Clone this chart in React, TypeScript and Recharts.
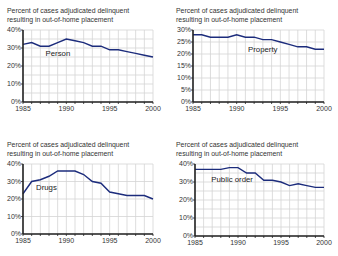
import React from 'react';
import { LineChart, Line, XAxis, YAxis, CartesianGrid, ReferenceDot } from 'recharts';

const years = [1985, 1986, 1987, 1988, 1989, 1990, 1991, 1992, 1993, 1994, 1995, 1996, 1997, 1998, 1999, 2000];
const personValues = [32, 33, 31, 31, 33, 35, 34, 33, 31, 31, 29, 29, 28, 27, 26, 25];
const propertyValues = [28, 28, 27, 27, 27, 28, 27, 27, 26, 26, 25, 24, 23, 23, 22, 22];
const drugsValues = [23, 30, 31, 33, 36, 36, 36, 34, 30, 29, 24, 23, 22, 22, 22, 20];
const publicOrderValues = [37, 37, 37, 37, 38, 38, 35, 35, 31, 31, 30, 28, 29, 28, 27, 27];

const xTickLabels = [1985, 1990, 1995, 2000];
const yTicks40 = [0, 10, 20, 30, 40];
const yGrid40 = [0, 5, 10, 15, 20, 25, 30, 35, 40];
const yTicks30 = [0, 5, 10, 15, 20, 25, 30];

const titleLines = ['Percent of cases adjudicated delinquent', 'resulting in out-of-home placement'];

const FONT = 'Arial, "Liberation Sans", Helvetica, sans-serif';
const LINE_COLOR = '#1c2c7c';
const AXIS_COLOR = '#222';
const GRID_COLOR = '#d4d4d4';

type PanelProps = {
  left: number;
  top: number;
  values: number[];
  name: string;
  yMax: number;
  yTicks: number[];
  yGrid: number[];
  margin: { top: number; right: number; left: number; bottom: number };
  yWidth: number;
  titleTop: number;
  labelAt: { x: number; y: number };
};

function Panel(p: PanelProps) {
  const data = years.map((year, i) => ({ year, value: p.values[i] }));
  return (
    <div style={{ position: 'absolute', left: p.left, top: p.top, width: 169, height: 128 }}>
      <div
        style={{
          position: 'absolute',
          left: 7,
          top: p.titleTop,
          fontFamily: FONT,
          fontSize: 6.9,
          lineHeight: '9px',
          color: '#333',
          whiteSpace: 'nowrap',
        }}
      >
        {titleLines.map((t) => (
          <div key={t}>{t}</div>
        ))}
      </div>
      <LineChart width={169} height={128} data={data} margin={p.margin}>
        <CartesianGrid
          stroke={GRID_COLOR}
          strokeWidth={0.8}
          horizontalValues={p.yGrid}
          verticalValues={years}
        />
        <XAxis
          dataKey="year"
          type="number"
          domain={[1985, 2000]}
          ticks={years}
          interval={0}
          tickFormatter={(v: number) => (xTickLabels.includes(v) ? String(v) : '')}
          tick={{ fontSize: 7, fill: '#333', fontFamily: FONT }}
          tickSize={2}
          tickMargin={2}
          height={14}
          stroke={AXIS_COLOR}
          axisLine={{ stroke: AXIS_COLOR, strokeWidth: 1.6 }}
          tickLine={{ stroke: AXIS_COLOR, strokeWidth: 0.8 }}
        />
        <YAxis
          type="number"
          domain={[0, p.yMax]}
          ticks={p.yTicks}
          interval={0}
          tickFormatter={(v: number) => `${v}%`}
          tick={{ fontSize: 7, fill: '#333', fontFamily: FONT }}
          tickSize={2}
          tickMargin={0}
          width={p.yWidth}
          axisLine={{ stroke: AXIS_COLOR, strokeWidth: 1.6 }}
          tickLine={{ stroke: AXIS_COLOR, strokeWidth: 0.8 }}
        />
        <Line
          type="linear"
          dataKey="value"
          stroke={LINE_COLOR}
          strokeWidth={1.4}
          dot={false}
          isAnimationActive={false}
        />
        <ReferenceDot
          x={p.labelAt.x}
          y={p.labelAt.y}
          r={0}
          stroke="none"
          fill="none"
          ifOverflow="visible"
          label={{
            value: p.name,
            position: 'right',
            offset: 0,
            fontSize: 7.8,
            fill: '#222',
            fontFamily: FONT,
          }}
        />
      </LineChart>
    </div>
  );
}

export default function App() {
  return (
    <div style={{ position: 'absolute', left: 0, top: 0, width: 338, height: 256, background: '#fff' }}>
      <Panel
        left={0}
        top={0}
        values={personValues}
        name="Person"
        yMax={40}
        yTicks={yTicks40}
        yGrid={yGrid40}
        margin={{ top: 30, right: 16, left: 0, bottom: 12 }}
        yWidth={23}
        titleTop={6}
        labelAt={{ x: 1987.6, y: 27.2 }}
      />
      <Panel
        left={169}
        top={0}
        values={propertyValues}
        name="Property"
        yMax={30}
        yTicks={yTicks30}
        yGrid={yTicks30}
        margin={{ top: 30, right: 14, left: 0, bottom: 12 }}
        yWidth={24}
        titleTop={6}
        labelAt={{ x: 1991.3, y: 22.1 }}
      />
      <Panel
        left={0}
        top={128}
        values={drugsValues}
        name="Drugs"
        yMax={40}
        yTicks={yTicks40}
        yGrid={yTicks40}
        margin={{ top: 36, right: 16, left: 0, bottom: 8 }}
        yWidth={23}
        titleTop={12}
        labelAt={{ x: 1986.5, y: 26.9 }}
      />
      <Panel
        left={169}
        top={128}
        values={publicOrderValues}
        name="Public order"
        yMax={40}
        yTicks={yTicks40}
        yGrid={yGrid40}
        margin={{ top: 36, right: 14, left: 0, bottom: 6 }}
        yWidth={26}
        titleTop={12}
        labelAt={{ x: 1986.9, y: 31.7 }}
      />
    </div>
  );
}
